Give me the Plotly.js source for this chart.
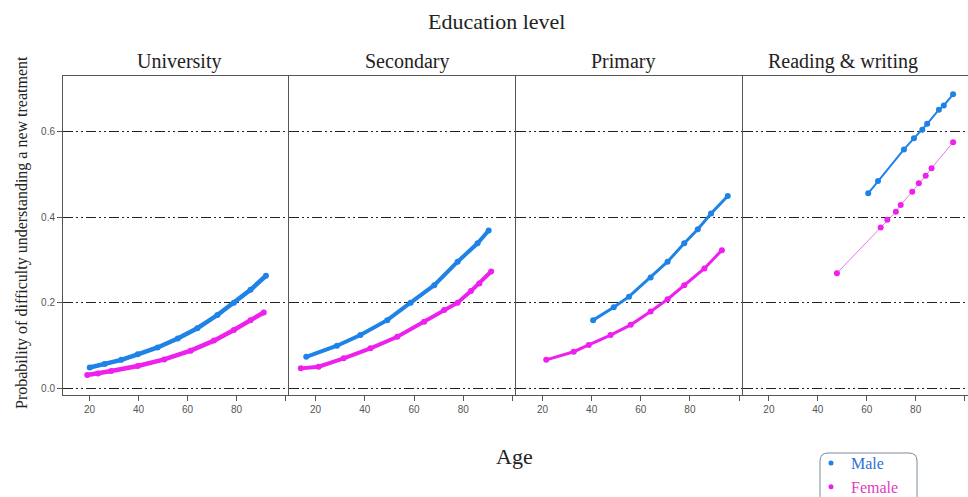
<!DOCTYPE html>
<html>
<head>
<meta charset="utf-8">
<script src="https://cdn.plot.ly/plotly-3.0.1.min.js"></script>
<style>html,body{margin:0;padding:0;background:#fff;}#chart{width:968px;height:497px;}</style>
</head>
<body>
<div id="chart"></div>
<script>
// ---- data ----
const panels = ["University", "Secondary", "Primary", "Reading & writing"];
const seriesNames = ["Male", "Female"];
const xTickVals = [20, 40, 60, 80, 100];
const xTickText = ["20", "40", "60", "80", ""];
const yTickVals = [0, 0.2, 0.4, 0.6];
const yTickText = ["0.0", "0.2", "0.4", "0.6"];

const uniMaleAge = [20.1, 26.2, 33, 39.7, 47.8, 56, 64, 72.2, 78.9, 85.7, 92];
const uniMaleP = [0.048, 0.056, 0.066, 0.079, 0.095, 0.116, 0.140, 0.171, 0.200, 0.230, 0.263];
const uniFemaleAge = [19.1, 23.5, 28.9, 39.7, 50.5, 61.3, 70.8, 78.9, 85.7, 91.1];
const uniFemaleP = [0.0305, 0.034, 0.040, 0.0515, 0.067, 0.0875, 0.111, 0.136, 0.159, 0.177];

const secMaleAge = [16.2, 28.7, 38.2, 49.1, 58.6, 68.2, 77.7, 85.8, 90.3];
const secMaleP = [0.073, 0.099, 0.124, 0.159, 0.200, 0.241, 0.296, 0.339, 0.369];
const secFemaleAge = [14, 21.2, 31.4, 42.3, 53.2, 64.1, 72.2, 77.7, 83.1, 86.5, 91.3];
const secFemaleP = [0.046, 0.050, 0.0695, 0.093, 0.120, 0.155, 0.183, 0.200, 0.227, 0.245, 0.273];

const priMaleAge = [40.6, 49, 55.2, 64, 70.9, 77.7, 83.2, 88.6, 95.4];
const priMaleP = [0.159, 0.189, 0.214, 0.259, 0.296, 0.339, 0.372, 0.409, 0.450];
const priFemaleAge = [21.5, 32.7, 38.8, 47.7, 55.9, 64, 70.9, 77.7, 85.9, 93];
const priFemaleP = [0.066, 0.085, 0.101, 0.124, 0.148, 0.179, 0.208, 0.241, 0.280, 0.323];

const rwMaleAge = [60.6, 64.6, 75.2, 79.3, 82.7, 84.7, 89.5, 91.5, 95.3];
const rwMaleP = [0.456, 0.485, 0.559, 0.585, 0.605, 0.619, 0.652, 0.662, 0.688];
const rwFemaleAge = [47.8, 65.7, 68.4, 71.9, 73.9, 78.6, 81.3, 84.1, 86.5, 95.3];
const rwFemaleP = [0.269, 0.376, 0.394, 0.413, 0.429, 0.460, 0.480, 0.497, 0.515, 0.576];

// ---- styling ----
const BLUE = "#1e82e6";
const MAGENTA = "#ee20ee";
const maleData = [[uniMaleAge, uniMaleP], [secMaleAge, secMaleP], [priMaleAge, priMaleP], [rwMaleAge, rwMaleP]];
const femaleData = [[uniFemaleAge, uniFemaleP], [secFemaleAge, secFemaleP], [priFemaleAge, priFemaleP], [rwFemaleAge, rwFemaleP]];
const maleLineW = [4.5, 4, 3, 2];
const femaleLineW = [4.5, 4, 3, 1];
const femaleLineCol = [MAGENTA, MAGENTA, MAGENTA, "#e27ae2"];

const W = 968, H = 497, L = 63, R = 0, T = 76, B = 102;
const pw = W - L - R, ph = H - T - B;
const px = v => (v - L) / pw;
const py = v => (H - B - v) / ph;
const doms = [[0, px(289)], [px(289), px(516)], [px(516), px(742.5)], [px(742.5), 1]];
const xRange = [9.2, 101.4];
const yRange = [-0.0164, 0.731];

const traces = [];
for (let i = 0; i < 4; i++) {
  const xa = i === 0 ? "x" : "x" + (i + 1);
  const ya = i === 0 ? "y" : "y" + (i + 1);
  traces.push({
    x: maleData[i][0], y: maleData[i][1], xaxis: xa, yaxis: ya, type: "scatter",
    mode: "lines+markers", showlegend: false, name: seriesNames[0],
    line: {color: BLUE, width: maleLineW[i]}, marker: {color: BLUE, size: 6}
  });
  traces.push({
    x: femaleData[i][0], y: femaleData[i][1], xaxis: xa, yaxis: ya, type: "scatter",
    mode: "lines+markers", showlegend: false, name: seriesNames[1],
    line: {color: femaleLineCol[i], width: femaleLineW[i]}, marker: {color: MAGENTA, size: 6}
  });
}
// legend entries
traces.push({x: [null], y: [null], type: "scatter", mode: "markers", xaxis: "x", yaxis: "y",
  name: '<span style="color:#2f6fd6">' + seriesNames[0] + '</span>', marker: {color: BLUE, size: 5}});
traces.push({x: [null], y: [null], type: "scatter", mode: "markers", xaxis: "x", yaxis: "y",
  name: '<span style="color:#e040b8">' + seriesNames[1] + '</span>', marker: {color: MAGENTA, size: 5}});

const tickFont = {family: "Liberation Sans, Arial, sans-serif", size: 10, color: "#555"};
const layout = {
  width: W, height: H,
  margin: {l: L, r: R, t: T, b: B, pad: 0, autoexpand: false},
  paper_bgcolor: "#fff", plot_bgcolor: "#fff",
  showlegend: true,
  legend: {xref: "container", yref: "container", x: 811 / W, y: 1 - 446 / H, xanchor: "left", yanchor: "top",
    bgcolor: "rgba(0,0,0,0)", borderwidth: 0,
    font: {family: "Liberation Serif, serif", size: 16}, tracegroupgap: 0},
  annotations: [],
  shapes: []
};
for (let i = 0; i < 4; i++) {
  const sx = i === 0 ? "" : String(i + 1);
  layout["xaxis" + sx] = {
    domain: doms[i], range: xRange, anchor: "y" + sx, showgrid: false, zeroline: false,
    showline: true, linecolor: "#555", linewidth: 1, mirror: true,
    ticks: "outside", ticklen: 5, tickcolor: "#555", tickvals: xTickVals, ticktext: xTickText,
    tickfont: tickFont, fixedrange: true, automargin: false
  };
  layout["yaxis" + sx] = {
    domain: [0, 1], range: yRange, anchor: "x" + sx, zeroline: false,
    showgrid: true, gridcolor: "#222", gridwidth: 1, griddash: "10px,3px,2px,3px,2px,3px",
    tickvals: yTickVals, ticktext: yTickText,
    showline: true, linecolor: "#555", linewidth: 1, mirror: false,
    ticks: i === 0 ? "outside" : "", ticklen: 5, tickcolor: "#555",
    showticklabels: i === 0, tickfont: tickFont, fixedrange: true, automargin: false
  };
  if (i > 0) layout["yaxis" + sx].matches = "y";
}
const serif = "Liberation Serif, Times New Roman, serif";
const titleX = [179, 406.5, 622.5, 843];
for (let i = 0; i < 4; i++) {
  layout.annotations.push({text: panels[i], xref: "paper", yref: "paper", x: px(titleX[i]), y: py(61),
    xanchor: "center", yanchor: "middle", showarrow: false, font: {family: serif, size: 20, color: "#222"}});
}
layout.annotations.push({text: "Education level", xref: "paper", yref: "paper", x: px(496), y: py(21),
  xanchor: "center", yanchor: "middle", showarrow: false, font: {family: serif, size: 22, color: "#222"}});
layout.annotations.push({text: "Age", xref: "paper", yref: "paper", x: px(514), y: py(456),
  xanchor: "center", yanchor: "middle", showarrow: false, font: {family: serif, size: 22, color: "#222"}});
layout.annotations.push({text: "Probability of difficulty understanding a new treatment", xref: "paper", yref: "paper",
  x: px(22), y: py(233), xanchor: "center", yanchor: "middle", textangle: -90, showarrow: false,
  font: {family: serif, size: 16, color: "#222"}});

// rounded legend frame
const bx0 = px(820), bx1 = px(917), byT = py(453), byB = py(506);
const rx = 8 / pw, ry = 8 / ph;
layout.shapes.push({type: "path", xref: "paper", yref: "paper", line: {color: "#7a8a9c", width: 1},
  path: `M ${bx0 + rx},${byT} L ${bx1 - rx},${byT} Q ${bx1},${byT} ${bx1},${byT - ry} L ${bx1},${byB + ry} ` +
        `Q ${bx1},${byB} ${bx1 - rx},${byB} L ${bx0 + rx},${byB} Q ${bx0},${byB} ${bx0},${byB + ry} ` +
        `L ${bx0},${byT - ry} Q ${bx0},${byT} ${bx0 + rx},${byT} Z`});

Plotly.newPlot("chart", traces, layout, {displayModeBar: false, staticPlot: true});
</script>
</body>
</html>
